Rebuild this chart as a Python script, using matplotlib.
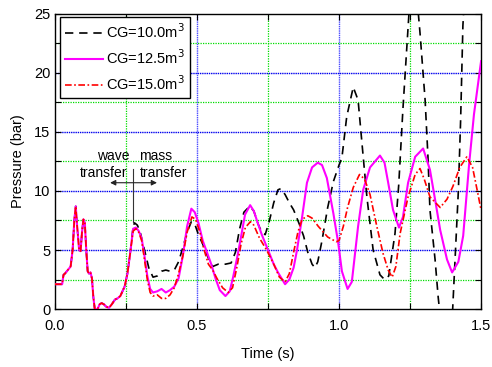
import numpy as np
import matplotlib
matplotlib.use("Agg")
import matplotlib.pyplot as plt
from matplotlib.ticker import MultipleLocator, FixedLocator

plt.rcParams['font.family'] = ['Liberation Sans', 'DejaVu Sans']

# shared early part of the three pressure traces
t_common = [0.000, 0.025, 0.030, 0.035, 0.045, 0.055, 0.062, 0.068, 0.073, 0.078,
            0.085, 0.090, 0.095, 0.100, 0.105, 0.110, 0.115, 0.120, 0.125, 0.130,
            0.135, 0.140, 0.150, 0.157, 0.164, 0.172, 0.180, 0.190, 0.200, 0.211,
            0.220, 0.230, 0.245, 0.255, 0.265]
p_common = [2.1, 2.1, 2.9, 3.0, 3.3, 3.6, 5.0, 7.5, 8.7, 7.0,
            5.0, 4.9, 6.5, 7.6, 7.3, 5.0, 3.2, 3.0, 3.1, 2.6,
            1.0, 0.0, 0.0, 0.4, 0.5, 0.4, 0.2, 0.1, 0.4, 0.8,
            0.9, 1.1, 1.9, 3.0, 4.8]

# CG = 10.0 m3 (black dashed)
t_cg10 = [0.275, 0.280, 0.290, 0.300, 0.315, 0.330, 0.345, 0.360, 0.375, 0.390,
          0.405, 0.420, 0.435, 0.450, 0.465, 0.480, 0.492, 0.505, 0.520, 0.540,
          0.555, 0.575, 0.600, 0.620, 0.635, 0.650, 0.665, 0.685, 0.700, 0.715,
          0.728, 0.740, 0.755, 0.770, 0.785, 0.795, 0.810, 0.825, 0.840, 0.860,
          0.875, 0.890, 0.905, 0.915, 0.925, 0.940, 0.960, 0.980, 1.000, 1.010,
          1.027, 1.050, 1.067, 1.085, 1.098, 1.120, 1.144, 1.160, 1.175, 1.197,
          1.210, 1.225, 1.246, 1.260, 1.272, 1.285, 1.303, 1.313, 1.320, 1.338,
          1.349, 1.360, 1.380, 1.400, 1.410, 1.420, 1.428, 1.436, 1.445, 1.460,
          1.500]
p_cg10 = [7.0, 7.3, 7.1, 6.5, 5.0, 3.5, 2.7, 2.8, 3.2, 3.3,
          3.2, 3.3, 4.0, 5.2, 6.5, 7.4, 7.2, 6.3, 5.5, 4.3,
          3.6, 3.8, 3.8, 3.9, 4.8, 6.8, 8.2, 8.7, 8.3, 7.2,
          6.5, 6.3, 7.5, 9.0, 10.1, 10.2, 9.7, 9.0, 8.4, 7.2,
          6.2, 4.8, 3.8, 3.5, 4.0, 5.8, 8.6, 10.8, 12.2, 12.8,
          16.3, 18.8, 17.7, 12.9, 9.5, 5.0, 2.9, 2.5, 2.8, 6.4,
          10.5, 17.0, 25.0, 28.0, 27.0, 23.4, 17.7, 12.9, 8.4, 4.2,
          1.0, -1.5, -2.5, 0.0, 5.0, 10.0, 16.0, 24.0, 28.0, 30.0,
          30.0]

# CG = 12.5 m3 (magenta solid)
t_cg125 = [0.275, 0.285, 0.295, 0.305, 0.315, 0.325, 0.335, 0.345, 0.360, 0.375,
           0.390, 0.405, 0.420, 0.435, 0.450, 0.465, 0.480, 0.492, 0.505, 0.520,
           0.535, 0.550, 0.565, 0.580, 0.600, 0.615, 0.627, 0.640, 0.651, 0.669,
           0.687, 0.700, 0.715, 0.728, 0.750, 0.770, 0.785, 0.810, 0.825, 0.840,
           0.852, 0.870, 0.887, 0.905, 0.925, 0.940, 0.957, 0.980, 0.997, 1.010,
           1.030, 1.045, 1.067, 1.085, 1.109, 1.144, 1.160, 1.173, 1.190, 1.211,
           1.225, 1.243, 1.268, 1.296, 1.320, 1.340, 1.356, 1.380, 1.398, 1.420,
           1.437, 1.458, 1.475, 1.500]
p_cg125 = [6.8, 6.9, 6.6, 6.0, 4.5, 2.8, 1.7, 1.4, 1.5, 1.7,
           1.4, 1.6, 1.9, 2.6, 4.5, 7.0, 8.5, 8.2, 7.3, 5.8,
           4.8, 3.8, 2.6, 1.6, 1.1, 1.5, 2.7, 4.2, 5.6, 8.0,
           8.8, 8.3, 7.2, 6.3, 5.0, 3.8, 3.1, 2.1, 2.5, 3.5,
           5.0, 7.8, 10.7, 12.0, 12.4, 12.2, 11.1, 8.1, 5.6, 3.2,
           1.7, 2.3, 7.0, 10.1, 12.0, 13.0, 12.4, 10.7, 8.4, 6.9,
           7.8, 10.7, 12.9, 13.6, 11.8, 9.0, 6.7, 4.2, 3.1, 4.0,
           6.2, 12.3, 16.5, 21.0]

# CG = 15.0 m3 (red dash-dot)
t_cg15 = [0.275, 0.285, 0.295, 0.305, 0.315, 0.325, 0.335, 0.345, 0.360, 0.375,
          0.390, 0.405, 0.420, 0.435, 0.450, 0.465, 0.482, 0.495, 0.510, 0.525,
          0.540, 0.555, 0.570, 0.590, 0.610, 0.625, 0.640, 0.655, 0.670, 0.688,
          0.700, 0.720, 0.745, 0.770, 0.790, 0.810, 0.825, 0.840, 0.855, 0.870,
          0.890, 0.905, 0.927, 0.960, 0.990, 1.000, 1.015, 1.030, 1.050, 1.072,
          1.090, 1.109, 1.133, 1.155, 1.173, 1.187, 1.200, 1.215, 1.243, 1.268,
          1.285, 1.300, 1.320, 1.356, 1.380, 1.401, 1.425, 1.450, 1.470, 1.486,
          1.500]
p_cg15 = [6.6, 6.8, 6.5, 5.8, 4.2, 2.5, 1.4, 1.1, 1.2, 0.9,
          0.9, 1.2, 1.8, 3.0, 4.5, 6.5, 7.8, 7.6, 6.5, 5.0,
          3.8, 3.3, 2.6, 1.8, 1.4, 1.8, 3.5, 5.5, 6.9, 7.4,
          7.1, 6.0, 5.0, 3.8, 2.7, 2.3, 3.0, 4.8, 6.5, 7.6,
          7.9, 7.7, 7.0, 6.1, 5.7, 5.8, 7.0, 8.6, 10.3, 11.4,
          11.0, 9.7, 7.0, 4.7, 3.3, 2.7, 3.6, 6.4, 9.5, 11.4,
          11.9, 11.0, 9.5, 8.6, 9.3, 10.4, 12.0, 12.9, 12.0, 10.1,
          8.4]

labels = ['CG=10.0m$^3$', 'CG=12.5m$^3$', 'CG=15.0m$^3$']
x_ticks = [0.0, 0.5, 1.0, 1.5]
x_ticklabels = ['0.0', '0.5', '1.0', '1.5']
y_ticks = [0, 5, 10, 15, 20, 25]

fig = plt.figure(figsize=(4.92, 3.67), dpi=100)
ax = fig.add_axes([0.1118, 0.158, 0.866, 0.804])

# grid
for gx in [0.25, 0.75, 1.25]:
    ax.axvline(gx, color='#00dd00', lw=0.9, ls=(0, (1, 1)), zorder=0)
for gx in [0.5, 1.0]:
    ax.axvline(gx, color='#4a4aff', lw=1.0, ls=(0, (1, 0.6)), zorder=0)
for gy in [2.5, 7.5, 12.5, 17.5, 22.5]:
    ax.axhline(gy, color='#00dd00', lw=0.9, ls=(0, (1, 1)), zorder=0)
for gy in [5, 10, 15, 20]:
    ax.axhline(gy, color='#0000ee', lw=1.0, ls=(0, (1, 0.6)), zorder=0)

t10 = t_common + t_cg10
p10 = p_common + p_cg10
t125 = t_common + t_cg125
p125 = p_common + p_cg125
t15 = t_common + t_cg15
p15 = p_common + p_cg15

ax.plot(t10, p10, color='black', lw=1.2, ls=(0, (5, 3.5)), label=labels[0], zorder=3)
ax.plot(t125, p125, color='#ff00ff', lw=1.5, ls='-', label=labels[1], zorder=4)
ax.plot(t15, p15, color='#ff0000', lw=1.2, ls=(0, (4, 1.5, 1, 1.5)), label=labels[2], zorder=5)

ax.set_xlim(0, 1.5)
ax.set_ylim(0, 25)
ax.xaxis.set_major_locator(FixedLocator(x_ticks))
ax.set_xticklabels(x_ticklabels)
ax.xaxis.set_minor_locator(MultipleLocator(0.25))
ax.yaxis.set_major_locator(FixedLocator(y_ticks))
ax.yaxis.set_minor_locator(MultipleLocator(2.5))
ax.tick_params(which='both', direction='in', top=True, right=True, length=4, width=0.8,
               labelsize=10.5, colors='black')
ax.tick_params(axis='x', pad=7)
for s in ax.spines.values():
    s.set_linewidth(1.0)

ax.set_xlabel('Time (s)', fontsize=10.5, labelpad=10)
ax.set_ylabel('Pressure (bar)', fontsize=10.5, labelpad=6)

leg = ax.legend(loc='upper left', bbox_to_anchor=(0.012, 0.99), fontsize=10.5,
                frameon=True, fancybox=False, edgecolor='black', framealpha=1,
                handlelength=2.6, handletextpad=0.2, borderpad=0.35, labelspacing=0.5,
                borderaxespad=0)
leg.get_frame().set_linewidth(1.0)

# annotation
ax.text(0.204, 12.97, 'wave', ha='center', va='center', fontsize=10)
ax.text(0.354, 12.97, 'mass', ha='center', va='center', fontsize=10)
ax.text(0.172, 11.5, 'transfer', ha='center', va='center', fontsize=10)
ax.text(0.384, 11.5, 'transfer', ha='center', va='center', fontsize=10)
ax.plot([0.275, 0.275], [11.9, 7.4], color='#333333', lw=0.8, zorder=6)
ax.annotate('', xy=(0.194, 10.7), xytext=(0.359, 10.7),
            arrowprops=dict(arrowstyle='<|-|>', lw=0.8, color='#222222',
                            mutation_scale=8, shrinkA=0, shrinkB=0), zorder=6)

fig.savefig('out.png', dpi=100)
